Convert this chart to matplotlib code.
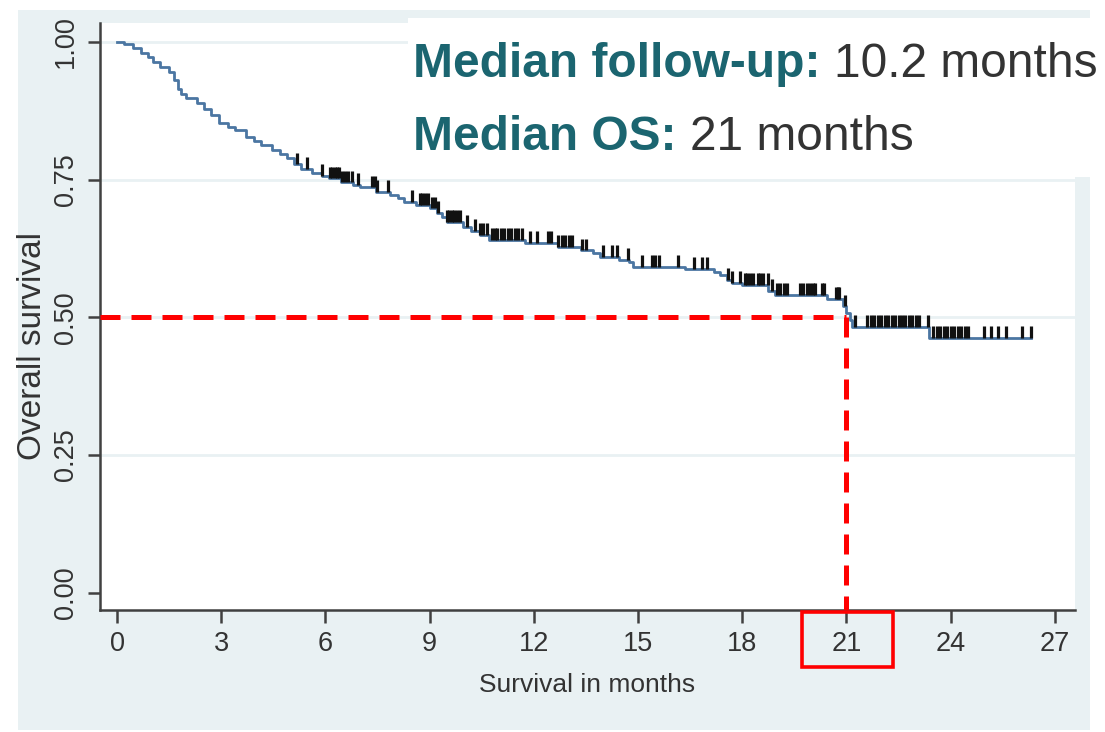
import numpy as np
import matplotlib
matplotlib.use("Agg")
import matplotlib.pyplot as plt
from matplotlib.patches import Rectangle

# ---- data ----
event_times = [0, 0.2, 0.45, 0.7, 0.9, 1.05, 1.25, 1.5, 1.65, 1.75, 1.85, 2.0, 2.3, 2.5,
               2.7, 2.95, 3.2, 3.4, 3.7, 3.95, 4.15, 4.45, 4.7, 4.9, 5.1, 5.3, 5.6, 5.9,
               6.1, 6.45, 6.8, 7.0, 7.45, 7.85, 8.1, 8.25, 8.6, 9.0, 9.2, 9.35, 9.5, 9.95,
               10.2, 10.45, 10.7, 11.75, 12.7, 13.35, 13.7, 13.9, 14.45, 14.75, 14.85,
               16.35, 17.2, 17.35, 17.55, 17.7, 18.0, 18.75, 18.95, 20.45, 20.9, 21.0,
               21.1, 21.15, 23.38]
survival = [1.0, 0.995, 0.989, 0.980, 0.972, 0.964, 0.955, 0.946, 0.930, 0.915, 0.905,
            0.898, 0.889, 0.878, 0.867, 0.853, 0.845, 0.840, 0.828, 0.820, 0.812, 0.804,
            0.796, 0.789, 0.778, 0.770, 0.762, 0.757, 0.752, 0.745, 0.740, 0.736, 0.728,
            0.722, 0.716, 0.710, 0.704, 0.698, 0.690, 0.682, 0.673, 0.664, 0.657, 0.650,
            0.641, 0.635, 0.628, 0.622, 0.616, 0.610, 0.604, 0.600, 0.592, 0.588, 0.582,
            0.576, 0.568, 0.563, 0.559, 0.548, 0.541, 0.534, 0.520, 0.508, 0.495, 0.483,
            0.463]
last_time = 26.3

censor_times = [5.18, 5.47, 5.9, 6.13, 6.2, 6.27, 6.33, 6.4, 6.47, 6.55, 6.65, 6.76, 6.94,
                7.34, 7.43, 7.48, 7.8, 8.49, 8.72, 8.78, 8.86, 8.95, 9.07, 9.15, 9.25,
                9.5, 9.57, 9.64, 9.71, 9.79, 9.87, 10.07, 10.3, 10.45, 10.55, 10.65, 10.79,
                10.87, 10.95, 11.05, 11.15, 11.25, 11.35, 11.45, 11.55, 11.65, 11.9, 12.1,
                12.4, 12.5, 12.7, 12.8, 12.9, 13.0, 13.1, 13.4, 13.5, 14.0, 14.25, 14.4,
                14.7, 15.1, 15.4, 15.5, 15.6, 16.15, 16.6, 16.84, 16.98, 17.59, 17.7,
                17.93, 18.08, 18.15, 18.22, 18.3, 18.45, 18.52, 18.6, 18.74, 18.85, 19.0,
                19.1, 19.2, 19.3, 19.66, 19.75, 19.86, 19.95, 20.03, 20.1, 20.3, 20.35,
                20.7, 20.75, 20.8, 20.96, 21.24, 21.6, 21.7, 21.8, 21.9, 22.0, 22.1, 22.2,
                22.3, 22.4, 22.5, 22.6, 22.7, 22.8, 22.9, 23.0, 23.1, 23.35, 23.5, 23.6,
                23.7, 23.8, 23.9, 24.0, 24.1, 24.2, 24.3, 24.4, 24.5, 24.95, 25.15, 25.37,
                25.6, 26.05, 26.3]

median_os = 21
median_level = 0.5
xticks = [0, 3, 6, 9, 12, 15, 18, 21, 24, 27]
yticks = [0.0, 0.25, 0.5, 0.75, 1.0]
ytick_labels = ["0.00", "0.25", "0.50", "0.75", "1.00"]
xlabel = "Survival in months"
ylabel = "Overall survival"
note_bold = ["Median follow-up:", "Median OS:"]
note_plain = ["10.2 months", "21 months"]

# ---- styling ----
BG = "#e9f1f3"
CURVE = "#4b76a2"
AXC = "#404040"
TEAL = "#1b6570"
narrow = ["Liberation Sans Narrow", "Liberation Sans", "DejaVu Sans"]

W, H = 1105, 732
fig = plt.figure(figsize=(W / 100, H / 100), dpi=100)
fig.patch.set_facecolor("white")
fig.patches.append(Rectangle((18 / W, 2 / H), (1090 - 18) / W, (730 - 10) / H,
                             transform=fig.transFigure, facecolor=BG, edgecolor="none",
                             zorder=-5))

ax = fig.add_axes([100 / W, (H - 610) / H, (1075 - 100) / W, (610 - 23) / H])
ax.set_zorder(1)
ax.set_facecolor("white")
ax.set_xlim(-0.49, 27.58)
ax.set_ylim(-0.031, 1.034)

for yv in yticks[1:]:
    ax.axhline(yv, color=BG, lw=2, zorder=1)

# KM curve
t_arr = np.array(event_times + [last_time])
s_arr = np.array(survival + [survival[-1]])
ax.step(t_arr, s_arr, where="post", color=CURVE, lw=2.0, zorder=3)

# censor marks
ct = np.array(censor_times)
idx = np.searchsorted(np.array(event_times), ct, side="right") - 1
cs = np.array(survival)[idx]
ax.vlines(ct, cs, cs + 0.021, color="#111111", lw=2.3, zorder=4)

# median lines
ax.plot([-0.49, median_os], [median_level, median_level], color="#ff0000", lw=3.6,
        dashes=(4, 2.2), zorder=5, dash_capstyle="butt")
ax.plot([median_os, median_os], [median_level, -0.031], color="#ff0000", lw=3.6,
        dashes=(4, 2.2), zorder=5, dash_capstyle="butt")

for sp in ["top", "right"]:
    ax.spines[sp].set_visible(False)
for sp in ["left", "bottom"]:
    ax.spines[sp].set_color(AXC)
    ax.spines[sp].set_linewidth(1.8)

ax.set_xticks(xticks)
ax.set_xticklabels([str(v) for v in xticks], family=narrow, fontsize=19.5, color="#333333")
ax.set_yticks(yticks)
ax.set_yticklabels(ytick_labels, family=narrow, fontsize=19.5, color="#333333",
                   rotation=90, va="center")
ax.tick_params(axis="both", length=9, width=1.8, color=AXC, pad=6)
ax.set_xlabel(xlabel, family=narrow, fontsize=19, color="#333333", labelpad=12)
ax.set_ylabel(ylabel, family=narrow, fontsize=24, color="#333333")
ax.yaxis.set_label_coords(-52 / 975, 0.45)

# red box around the median tick label
fig.patches.append(Rectangle((802 / W, (H - 667) / H), (893 - 802) / W, (667 - 612) / H,
                             transform=fig.transFigure, facecolor="none",
                             edgecolor="#ff0000", lw=2.6, zorder=10))

# white annotation panel
fig.patches.append(Rectangle((408 / W, (H - 177) / H), (W - 408) / W, (177 - 18) / H,
                             transform=fig.transFigure, facecolor="white",
                             edgecolor="none", zorder=8))
for i, (b, p) in enumerate(zip(note_bold, note_plain)):
    yb = (H - (77 + i * 73)) / H
    tb = fig.text(413 / W, yb, b + " ", fontsize=34.5, fontweight="bold", color=TEAL,
                  family=["Liberation Sans", "DejaVu Sans"], va="baseline", zorder=11)
    fig.canvas.draw()
    bb = tb.get_window_extent()
    fig.text(bb.x1 / W, yb, p, fontsize=34.5, color="#333333",
             family=["Liberation Sans", "DejaVu Sans"], va="baseline", zorder=11)

fig.savefig("out.png", dpi=100, facecolor="white")
